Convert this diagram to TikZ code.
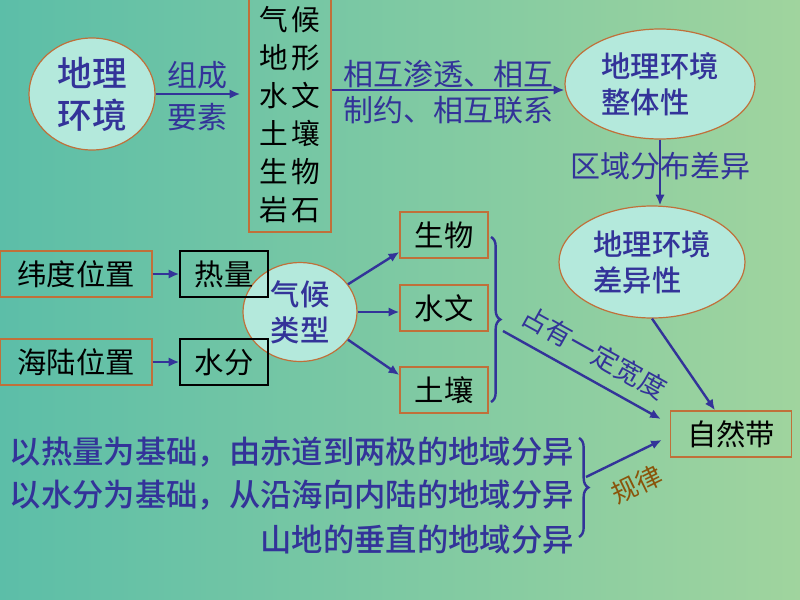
\documentclass[tikz,border=0pt]{standalone}
\usepackage{fontspec}
\setmainfont[BoldFont={Noto Sans CJK SC Medium}]{Noto Sans CJK SC}
\usetikzlibrary{shapes.geometric, arrows.meta, decorations.pathreplacing}
\definecolor{bgleft}{RGB}{92,190,168}
\definecolor{bgright}{RGB}{160,212,158}
\definecolor{ovalfill}{RGB}{180,233,220}
\definecolor{edgebrown}{RGB}{192,112,58}
\definecolor{geoblue}{RGB}{51,51,153}
\definecolor{lawbrown}{RGB}{138,84,10}

\begin{document}
\begin{tikzpicture}[
  x=0.75pt, y=-0.75pt,
  oval/.style={draw=edgebrown, fill=ovalfill, ellipse, line width=0.9pt, inner sep=0pt,
    align=left, text=geoblue, font=\fontsize{22}{27}\selectfont\bfseries},
  tag/.style={draw=edgebrown, line width=1.1pt, minimum height=34.5pt, inner sep=2pt,
    font=\fontsize{22}{26}\selectfont},
  link/.style={-{Latex[length=8pt,width=7pt]}, draw=geoblue, line width=1.8pt},
  note/.style={text=geoblue, inner sep=1pt, font=\fontsize{22.5}{28}\selectfont},
  rule/.style={text=geoblue, inner sep=0pt, anchor=east, font=\fontsize{23.5}{28}\selectfont\bfseries},
  curly/.style={draw=geoblue, line width=1.8pt, decorate, decoration={brace, amplitude=7pt}}
]
  % background
  \fill[left color=bgleft, right color=bgright] (0,0) rectangle (800,600);
  \useasboundingbox (0,0) rectangle (800,600);

  % top row
  \node[oval, minimum width=94.5pt, minimum height=84pt,
    font=\fontsize{26}{31.5}\selectfont\bfseries] (env) at (92,94) {地理\\环境};
  \node[draw=edgebrown, line width=1.1pt, minimum width=61.5pt, minimum height=175.5pt,
    align=center, font=\fontsize{21.5}{28.5}\selectfont] (elem) at (290,115)
    {气\hspace{3pt}候\\地\hspace{3pt}形\\水\hspace{3pt}文\\土\hspace{3pt}壤\\生\hspace{3pt}物\\岩\hspace{3pt}石};
  \node[oval, minimum width=142.5pt, minimum height=82.5pt] (whole) at (660,84) {地理环境\\整体性};
  \node[oval, minimum width=139.5pt, minimum height=84pt] (diff) at (652,262) {地理环境\\差异性};
  \node[tag, minimum width=90.75pt] (zone) at (731,434) {自然带};

  \draw[link] (env.east) -- ([xshift=-6pt]env.east -| elem.west)
    node[midway, note, above=2pt] {组成}
    node[midway, note, below=5pt] {要素};
  \draw[link] ([yshift=-4.5pt]whole.west -| elem.east) -- ([yshift=-4.5pt]whole.west)
    node[midway, note, above] {相互渗透、相互}
    node[midway, note, below=3pt] {制约、相互联系};
  \draw[link] (whole.south) -- (whole.south |- diff.north)
    node[midway, note, yshift=4.5pt] {区域分布差异};
  \draw[link] (diff.south) -- ([xshift=-12pt]zone.north);

  % climate part
  \node[oval, align=center, minimum width=85.5pt, minimum height=74.25pt] (clim) at (300,312) {气候\\类型};
  \node[tag, minimum width=114pt] (lat) at (76,274) {纬度位置};
  \node[tag, minimum width=114pt] (sea) at (76,362) {海陆位置};
  \node[tag, draw=black, minimum width=66pt] (heat) at (224,274) {热量};
  \node[tag, draw=black, minimum width=66pt] (water) at (224,362) {水分};
  \node[tag, minimum width=66pt] (bio) at (444,235) {生物};
  \node[tag, minimum width=66pt] (hyd) at (444,308) {水文};
  \node[tag, minimum width=66pt] (soil) at (444,390) {土壤};

  \draw[link] (lat.east) -- (heat.west);
  \draw[link] (sea.east) -- (water.west);
  \draw[link] (clim.30) -- ([yshift=-12.75pt]bio.west);
  \draw[link] (clim.east) -- (clim.east -| hyd.west);
  \draw[link] (clim.-30) -- ([yshift=11.25pt]soil.west);

  \draw[curly] (491,237) -- (491,402);
  \coordinate (wtip) at (503,331);
  \draw[link] (wtip) -- ([xshift=-6.75pt, yshift=11.25pt]zone.west)
    node[midway, sloped, above=8pt, note, font=\fontsize{20}{24}\selectfont] {占有一定宽度};

  % laws
  \node[rule] (law1) at (574,452) {以热量为基础，由赤道到两极的地域分异};
  \node[rule] (law2) at (574,495) {以水分为基础，从沿海向内陆的地域分异};
  \node[rule] (law3) at (574,540) {山地的垂直的地域分异};
  \draw[curly] (579,438) -- (579,537);
  \coordinate (ltip) at (586,477);
  \draw[link] (ltip) -- ([xshift=-6pt, yshift=-4.5pt]zone.west)
    node[midway, sloped, below=12pt, inner sep=0pt, text=lawbrown, font=\fontsize{19.5}{24}\selectfont] {规律};
\end{tikzpicture}
\end{document}
